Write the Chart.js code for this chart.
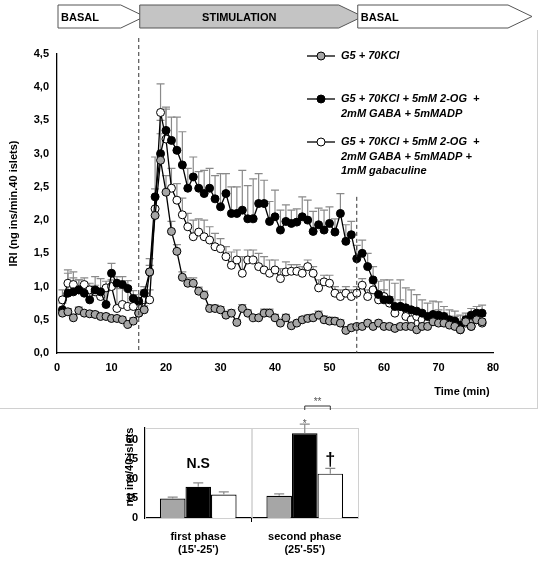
<!DOCTYPE html>
<html>
<head>
<meta charset="utf-8">
<script src="https://cdn.jsdelivr.net/npm/chart.js@4"></script>
<style>
  body { margin: 0; background: #fff; }
  #wrap { position: relative; width: 538px; height: 562px; }
  #main { position: absolute; left: 0; top: 0; }
  #bars { position: absolute; left: 95px; top: 397px; }
</style>
</head>
<body>
<div id="wrap">
  <canvas id="main" width="538" height="410"></canvas>
  <canvas id="bars" width="290" height="165"></canvas>
</div>
<script>
// minutes 1..78
const minutes = Array.from({ length: 78 }, (_, i) => i + 1);

const grayVals = [0.6,0.62,0.53,0.64,0.6,0.59,0.58,0.55,0.55,0.52,0.52,0.5,0.43,0.48,0.6,0.65,1.22,2.07,2.9,2.42,
  1.83,1.53,1.14,1.05,1.05,0.93,0.87,0.67,0.67,0.65,0.57,0.6,0.46,0.67,0.6,0.53,0.53,0.6,0.6,0.53,
  0.45,0.53,0.41,0.45,0.5,0.52,0.53,0.57,0.5,0.48,0.48,0.45,0.34,0.38,0.4,0.4,0.45,0.4,0.45,0.4,
  0.4,0.37,0.4,0.4,0.4,0.35,0.4,0.4,0.47,0.45,0.45,0.42,0.4,0.35,0.47,0.4,0.5,0.47];
const grayErr = [0.05,0.05,0.04,0.05,0.04,0.04,0.04,0.04,0.04,0.04,0.04,0.04,0.04,0.05,0.05,0.06,0.1,0.3,0.4,0.25,
  0.15,0.1,0.08,0.08,0.08,0.06,0.06,0.05,0.05,0.05,0.05,0.05,0.04,0.06,0.05,0.04,0.04,0.06,0.06,0.05,
  0.04,0.05,0.04,0.04,0.04,0.05,0.05,0.06,0.06,0.06,0.05,0.05,0.04,0.04,0.04,0.04,0.04,0.04,0.04,0.04,
  0.04,0.04,0.04,0.04,0.04,0.04,0.04,0.04,0.04,0.04,0.04,0.04,0.04,0.04,0.04,0.04,0.04,0.04];

const blackVals = [0.65,0.9,0.92,0.95,0.9,0.8,0.95,0.92,0.73,1.2,1.05,1.03,0.97,0.82,0.78,0.9,1.22,2.35,3.0,3.35,
  3.2,3.05,2.83,2.48,2.65,2.48,2.4,2.48,2.32,2.2,2.4,2.1,2.1,2.15,2.02,2.02,2.25,2.25,1.98,2.05,
  1.85,1.98,1.95,1.97,2.05,2.0,1.83,1.93,1.85,1.95,1.82,2.1,1.68,1.78,1.42,1.5,1.3,1.1,0.88,0.8,
  0.8,0.7,0.7,0.68,0.65,0.63,0.6,0.55,0.58,0.57,0.55,0.5,0.48,0.42,0.5,0.57,0.6,0.6];
const blackErr = [0.1,0.3,0.3,0.15,0.15,0.15,0.2,0.2,0.2,0.15,0.1,0.12,0.12,0.12,0.1,0.1,0.2,0.6,0.5,0.35,
  0.35,0.5,0.5,0.3,0.3,0.25,0.35,0.3,0.35,0.5,0.3,0.4,0.4,0.6,0.5,0.6,0.45,0.35,0.3,0.4,
  0.3,0.25,0.2,0.2,0.3,0.3,0.3,0.25,0.3,0.25,0.2,0.3,0.25,0.2,0.2,0.2,0.2,0.2,0.2,0.3,
  0.3,0.35,0.4,0.3,0.3,0.25,0.2,0.2,0.2,0.2,0.15,0.15,0.15,0.15,0.1,0.1,0.1,0.12];

const whiteVals = [0.8,1.05,1.03,0.95,1.03,0.95,0.92,0.85,0.98,1.0,0.67,0.73,0.7,0.7,0.6,0.8,0.8,2.17,3.62,3.22,
  2.48,2.3,2.08,1.9,1.75,1.82,1.75,1.7,1.6,1.57,1.45,1.32,1.4,1.2,1.4,1.4,1.3,1.25,1.2,1.25,
  1.12,1.22,1.23,1.23,1.2,1.3,1.2,0.98,1.07,1.05,0.9,0.85,0.9,0.85,0.9,1.02,0.85,0.95,0.8,0.85,
  0.75,0.6,0.7,0.55,0.5,0.55,0.5,0.45,0.5,0.55,0.5,0.45,0.45,0.35,0.45,0.4,0.5,0.45];
const whiteErr = [0.15,0.2,0.1,0.15,0.1,0.1,0.1,0.12,0.1,0.1,0.3,0.3,0.3,0.15,0.2,0.15,0.15,0.3,0.43,0.45,
  0.3,0.25,0.25,0.2,0.25,0.2,0.25,0.2,0.2,0.15,0.15,0.2,0.15,0.25,0.15,0.15,0.2,0.2,0.2,0.15,
  0.15,0.15,0.1,0.1,0.1,0.1,0.1,0.12,0.1,0.12,0.1,0.1,0.1,0.1,0.1,0.1,0.1,0.1,0.1,0.1,
  0.1,0.12,0.1,0.1,0.1,0.1,0.1,0.1,0.1,0.1,0.1,0.1,0.1,0.1,0.1,0.1,0.1,0.1];

const yTicks = [0, 0.5, 1, 1.5, 2, 2.5, 3, 3.5, 4, 4.5];
const xTicks = [0, 10, 20, 30, 40, 50, 60, 70, 80];
const legendLabels = [
  ['G5 + 70KCl'],
  ['G5 + 70KCl + 5mM 2-OG  +', '2mM GABA + 5mMADP'],
  ['G5 + 70KCl + 5mM 2-OG  +', '2mM GABA + 5mMADP +', '1mM gabaculine']
];
const phases = [
  { label: 'BASAL', from: 0, to: 15, fill: '#fff' },
  { label: 'STIMULATION', from: 15, to: 55, fill: '#c4c4c4' },
  { label: 'BASAL', from: 55, to: 87, fill: '#fff' }
];

// bar chart data
const phaseLabels = [['first phase', "(15'-25')"], ['second phase', "(25'-55')"]];
const barGray = [15, 17];
const barGrayErr = [1, 1.5];
const barBlack = [24, 65];
const barBlackErr = [3, 7];
const barWhite = [18, 34];
const barWhiteErr = [2, 4];
const barTicks = [0, 15, 30, 45, 60];

const FONT = 'Arial, "Liberation Sans", sans-serif';

function errorBars(chart) {
    const ctx = chart.ctx;
    const ys = chart.scales.y;
    ctx.save();
    ctx.strokeStyle = '#8a8a8a';
    ctx.lineWidth = 1.2;
    chart.data.datasets.forEach((ds, i) => {
        if (!ds.err) return;
        const meta = chart.getDatasetMeta(i);
        meta.data.forEach((el, j) => {
            const top = ys.getPixelForValue(ds.data[j] + ds.err[j]);
            const w = ds.capW || 4;
            ctx.beginPath();
            ctx.moveTo(el.x, el.y);
            ctx.lineTo(el.x, top);
            ctx.moveTo(el.x - w, top);
            ctx.lineTo(el.x + w, top);
            ctx.stroke();
        });
    });
    ctx.restore();
}

const mainDecor = {
    id: 'mainDecor',
    beforeDatasetsDraw(chart) {
        errorBars(chart);
    },
    afterDraw(chart) {
        const ctx = chart.ctx;
        const xs = chart.scales.x;
        const ys = chart.scales.y;
        ctx.save();
        // phase banners
        phases.forEach(p => {
            const l = xs.getPixelForValue(p.from) + 1;
            const r = Math.min(xs.getPixelForValue(p.to) + 6, 532);
            const t = 5, b = 28, tip = 24;
            ctx.beginPath();
            ctx.moveTo(l, t);
            ctx.lineTo(r - tip, t);
            ctx.lineTo(r, (t + b) / 2);
            ctx.lineTo(r - tip, b);
            ctx.lineTo(l, b);
            ctx.closePath();
            ctx.fillStyle = p.fill;
            ctx.fill();
            ctx.strokeStyle = '#555';
            ctx.lineWidth = 1;
            ctx.stroke();
            ctx.fillStyle = '#000';
            ctx.font = 'bold 11px ' + FONT;
            ctx.textBaseline = 'middle';
            ctx.textAlign = p.label === 'STIMULATION' ? 'center' : 'left';
            const tx = p.label === 'STIMULATION' ? (l + r - tip) / 2 : l + 3;
            ctx.fillText(p.label, tx, (t + b) / 2 + 1);
        });
        // dashed phase lines
        ctx.strokeStyle = '#333';
        ctx.setLineDash([4, 3]);
        ctx.lineWidth = 1;
        const x15 = xs.getPixelForValue(15), x55 = xs.getPixelForValue(55);
        ctx.beginPath();
        ctx.moveTo(x15, 38); ctx.lineTo(x15, ys.bottom);
        ctx.moveTo(x55, ys.getPixelForValue(2.35)); ctx.lineTo(x55, ys.bottom);
        ctx.stroke();
        ctx.setLineDash([]);
        // legend
        const fills = ['#a6a6a6', '#000', '#fff'];
        const rowsY = [56, 99, 142];
        ctx.font = 'italic bold 11px ' + FONT;
        ctx.textAlign = 'left';
        ctx.textBaseline = 'middle';
        legendLabels.forEach((lines, i) => {
            const y = rowsY[i];
            ctx.strokeStyle = '#000';
            ctx.lineWidth = 1.3;
            ctx.beginPath();
            ctx.moveTo(307, y); ctx.lineTo(335, y);
            ctx.stroke();
            ctx.beginPath();
            ctx.arc(321, y, 4, 0, Math.PI * 2);
            ctx.fillStyle = fills[i];
            ctx.fill();
            ctx.lineWidth = 1;
            ctx.stroke();
            ctx.fillStyle = '#000';
            lines.forEach((s, k) => ctx.fillText(s, 341, y + k * 14.5));
        });
        // axis titles
        ctx.font = 'bold 11px ' + FONT;
        ctx.textAlign = 'center';
        ctx.fillText('Time (min)', 462, 392);
        ctx.save();
        ctx.translate(14, (ys.top + ys.bottom) / 2);
        ctx.rotate(-Math.PI / 2);
        ctx.fillText('IRI (ng ins/min.40 islets)', 0, 0);
        ctx.restore();
        // frame line under the main panel
        ctx.strokeStyle = '#d0d0d0';
        ctx.beginPath();
        ctx.moveTo(0, 408.5); ctx.lineTo(538, 408.5);
        ctx.moveTo(537.5, 30); ctx.lineTo(537.5, 408.5);
        ctx.stroke();
        ctx.restore();
    }
};

function lineSet(data, err, fill) {
    return {
        data: data,
        err: err,
        borderColor: '#000',
        borderWidth: 1.3,
        pointRadius: 4,
        pointBorderWidth: 1,
        pointBackgroundColor: fill,
        pointBorderColor: '#000',
        tension: 0
    };
}

new Chart(document.getElementById('main'), {
    type: 'line',
    data: {
        labels: minutes,
        datasets: [
            lineSet(grayVals, grayErr, '#a6a6a6'),
            lineSet(blackVals, blackErr, '#000'),
            lineSet(whiteVals, whiteErr, '#fff')
        ]
    },
    options: {
        responsive: false,
        animation: false,
        layout: { padding: { left: 0, top: 54, right: 45, bottom: 0 } },
        plugins: { legend: { display: false }, tooltip: { enabled: false } },
        scales: {
            x: {
                type: 'linear', min: 0, max: 80,
                afterBuildTicks: s => { s.ticks = xTicks.map(v => ({ value: v })); },
                afterFit: s => { s.height = 57; },
                grid: { display: false, drawTicks: true, tickLength: 4, color: '#000' },
                border: { color: '#000', width: 1.3 },
                ticks: { color: '#000', font: { family: FONT, size: 11, weight: 'bold' }, padding: 4 }
            },
            y: {
                min: 0, max: 4.5,
                afterBuildTicks: s => { s.ticks = yTicks.map(v => ({ value: v })); },
                afterFit: s => { s.width = 57; },
                grid: { display: false, tickLength: 4 },
                border: { color: '#000', width: 1.3 },
                ticks: {
                    color: '#000', font: { family: FONT, size: 11, weight: 'bold' }, padding: 4,
                    callback: v => v.toFixed(1).replace('.', ',')
                }
            }
        }
    },
    plugins: [mainDecor]
});

const barDecor = {
    id: 'barDecor',
    beforeDatasetsDraw(chart) {
        const ctx = chart.ctx;
        const xs = chart.scales.x, ys = chart.scales.y;
        const mid = (xs.left + xs.right) / 2;
        ctx.save();
        ctx.strokeStyle = '#d0d0d0';
        ctx.lineWidth = 1;
        ctx.strokeRect(xs.left + 0.5, ys.top + 0.5, mid - xs.left, ys.bottom - ys.top);
        ctx.strokeRect(mid + 0.5, ys.top + 0.5, xs.right - mid, ys.bottom - ys.top);
        ctx.restore();
    },
    afterDatasetsDraw(chart) {
        errorBars(chart);
        const ctx = chart.ctx;
        const xs = chart.scales.x, ys = chart.scales.y;
        const mid = (xs.left + xs.right) / 2;
        const bk = chart.getDatasetMeta(1).data, wh = chart.getDatasetMeta(2).data;
        ctx.save();
        ctx.strokeStyle = '#000';
        ctx.beginPath();
        ctx.moveTo(mid, ys.bottom); ctx.lineTo(mid, ys.bottom + 4);
        ctx.stroke();
        ctx.fillStyle = '#000';
        ctx.textAlign = 'center';
        ctx.textBaseline = 'alphabetic';
        ctx.font = 'bold 14px ' + FONT;
        ctx.fillText('N.S', bk[0].x, ys.getPixelForValue(38));
        ctx.font = 'bold 18px ' + FONT;
        ctx.fillText('†', wh[1].x, ys.getPixelForValue(41));
        ctx.font = '10px ' + FONT;
        ctx.fillStyle = '#555';
        ctx.fillText('*', bk[1].x, ys.getPixelForValue(73) + 4);
        // ** bracket
        const by = 9;
        ctx.strokeStyle = '#333';
        ctx.beginPath();
        ctx.moveTo(bk[1].x, by + 4); ctx.lineTo(bk[1].x, by); ctx.lineTo(wh[1].x, by); ctx.lineTo(wh[1].x, by + 4);
        ctx.stroke();
        ctx.fillText('**', (bk[1].x + wh[1].x) / 2, by - 1);
        // y title
        ctx.fillStyle = '#000';
        ctx.font = 'bold 11px ' + FONT;
        ctx.translate(38, (ys.top + ys.bottom) / 2 - 6);
        ctx.rotate(-Math.PI / 2);
        ctx.fillText('ng ins/40 islets', 0, 0);
        ctx.restore();
    }
};

function barSet(data, err, fill) {
    return {
        data: data, err: err, capW: 5,
        backgroundColor: fill, borderColor: '#000', borderWidth: 1.2,
        categoryPercentage: 0.72, barPercentage: 1
    };
}

new Chart(document.getElementById('bars'), {
    type: 'bar',
    data: {
        labels: phaseLabels,
        datasets: [
            barSet(barGray, barGrayErr, '#a6a6a6'),
            barSet(barBlack, barBlackErr, '#000'),
            barSet(barWhite, barWhiteErr, '#fff')
        ]
    },
    options: {
        responsive: false,
        animation: false,
        layout: { padding: { left: 0, top: 31, right: 27, bottom: 0 } },
        plugins: { legend: { display: false }, tooltip: { enabled: false } },
        scales: {
            x: {
                afterFit: s => { s.height = 44; },
                grid: { display: false },
                border: { color: '#000', width: 1.2 },
                ticks: { color: '#000', font: { family: FONT, size: 11, weight: 'bold' }, padding: 4 }
            },
            y: {
                min: 0, max: 69,
                afterBuildTicks: s => { s.ticks = barTicks.map(v => ({ value: v })); },
                afterFit: s => { s.width = 50; },
                grid: { display: false, tickLength: 4 },
                border: { color: '#000', width: 1.2 },
                ticks: { color: '#000', font: { family: FONT, size: 11, weight: 'bold' }, padding: 3 }
            }
        }
    },
    plugins: [barDecor]
});
</script>
</body>
</html>
